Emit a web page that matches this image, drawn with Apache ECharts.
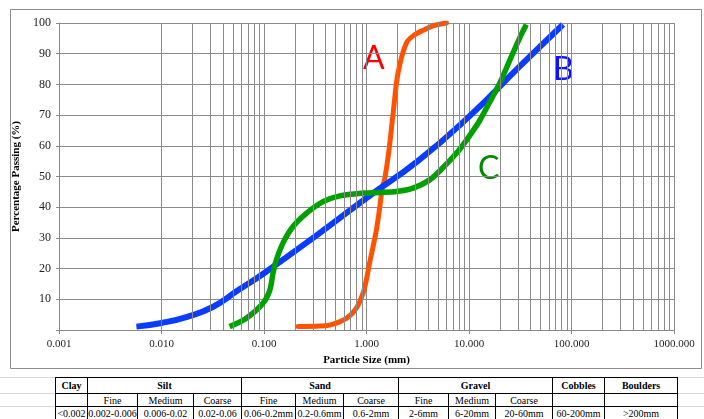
<!DOCTYPE html>
<html>
<head>
<meta charset="utf-8">
<script src="https://cdn.jsdelivr.net/npm/echarts@6/dist/echarts.min.js"></script>
<style>
  html, body { margin: 0; padding: 0; background: #fff; }
  #wrap { position: relative; width: 704px; height: 419px; overflow: hidden; }
  #chart { position: absolute; left: 0; top: 0; width: 704px; height: 419px; }
  .sheet { position: absolute; left: 0; width: 704px; height: 0; border-top: 1px solid #d8d8d8; }
  table.soil {
    position: absolute; left: 55px; top: 377px;
    border-collapse: collapse; table-layout: fixed;
    font-family: "Liberation Serif", serif; font-size: 10px; color: #000;
    background: #fff;
  }
  table.soil td { border: 1px solid #000; padding: 0; text-align: center; white-space: nowrap; overflow: hidden; line-height: 11px; }
  table.soil tr.head td { font-weight: bold; height: 15px; }
  table.soil tr.sub td { height: 12px; }
  table.soil tr.range td { height: 12px; }
</style>
</head>
<body>
<div id="wrap">
  <div id="chart"></div>
  <div class="sheet" style="top:377px"></div>
  <div class="sheet" style="top:393px"></div>
  <div class="sheet" style="top:406px"></div>
  <table class="soil" id="soil"></table>
</div>
<script>
// grading curves (size in mm, % passing)
var sizeA = [0.215, 0.349, 0.438, 0.637, 0.797, 0.925, 0.997, 1.07, 1.16, 1.25, 1.35, 1.43, 1.50, 1.66, 1.82, 2.03, 2.45, 2.95, 3.56, 4.46, 6.03];
var passA = [1.1, 1.3, 1.6, 3.8, 7.1, 12.0, 16.3, 21.7, 27.2, 32.6, 40.2, 46.7, 48.9, 58.7, 70.7, 83.7, 93.5, 96.2, 97.6, 99.1, 100];

var sizeB = [0.00569, 0.01, 0.0178, 0.0316, 0.0562, 0.1, 0.316, 1, 3.16, 10, 31.6, 82.6];
var passB = [1.1, 2.3, 4.3, 7.5, 13.0, 18.5, 30.5, 43.0, 55.0, 69.5, 86.0, 99.5];

var sizeC = [0.0462, 0.0673, 0.0977, 0.114, 0.1225, 0.132, 0.153, 0.192, 0.259, 0.377, 0.548, 0.925, 1.35, 1.96, 2.85, 4.14, 5.62, 7.94, 10, 12.6, 15.8, 20, 25.1, 31.6, 36.3];
var passC = [1.1, 3.8, 8.7, 13.0, 18.5, 22.8, 28.3, 33.7, 38.0, 41.8, 43.7, 44.6, 44.8, 45.1, 46.2, 48.9, 53.0, 58.5, 63.0, 68.0, 74.0, 80.5, 88.0, 95.5, 99.5];

var decades = [0.001, 0.01, 0.1, 1, 10, 100];
var multiples = [2, 3, 4, 5, 6, 7, 8, 9];

// soil classification table
var mainClasses = [['Clay', 1], ['Silt', 3], ['Sand', 3], ['Gravel', 3], ['Cobbles', 1], ['Boulders', 1]];
var subClasses = ['', 'Fine', 'Medium', 'Coarse', 'Fine', 'Medium', 'Coarse', 'Fine', 'Medium', 'Coarse', '', ''];
var sizeRanges = ['<0.002', '0.002-0.006', '0.006-0.02', '0.02-0.06', '0.06-0.2mm', '0.2-0.6mm', '0.6-2mm', '2-6mm', '6-20mm', '20-60mm', '60-200mm', '>200mm'];
var colWidths = [32, 50, 56, 48, 54, 48, 55, 50, 47, 57, 52, 73];

function zip(xs, ys) {
  return xs.map(function (x, i) { return [x, ys[i]]; });
}

var minorLines = [];
decades.forEach(function (d) {
  multiples.forEach(function (m) { minorLines.push({ xAxis: +(d * m).toPrecision(3) }); });
});

var chart = echarts.init(document.getElementById('chart'));
var serif = '"Liberation Serif", "Times New Roman", serif';

var option = {
  animation: false,
  grid: { left: 59, right: 30, top: 23, bottom: 89 },
  xAxis: {
    type: 'log',
    logBase: 10,
    min: 0.001,
    max: 1000,
    name: 'Particle Size (mm)',
    nameLocation: 'middle',
    nameGap: 23,
    nameTextStyle: { fontFamily: serif, fontWeight: 'bold', fontSize: 11, color: '#000' },
    axisLine: { lineStyle: { color: '#888', width: 1 } },
    axisTick: { show: true, length: 4, lineStyle: { color: '#888' } },
    axisLabel: {
      fontFamily: serif, fontSize: 11, color: '#222', margin: 9,
      formatter: function (v) { return Number(v).toFixed(3); }
    },
    splitLine: { show: true, lineStyle: { color: '#8a8a8a', width: 1 } }
  },
  yAxis: {
    type: 'value',
    min: 0,
    max: 100,
    interval: 10,
    name: 'Percentage Passing (%)',
    nameLocation: 'middle',
    nameGap: 36,
    nameRotate: 90,
    nameTextStyle: { fontFamily: serif, fontWeight: 'bold', fontSize: 11, color: '#000' },
    axisLine: { show: true, lineStyle: { color: '#888', width: 1 } },
    axisTick: { show: true, length: 3, lineStyle: { color: '#888' } },
    axisLabel: {
      fontFamily: serif, fontSize: 12, color: '#222', margin: 8,
      formatter: function (v) { return v === 0 ? '' : v; }
    },
    splitLine: { show: true, lineStyle: { color: '#8a8a8a', width: 1 } }
  },
  graphic: [
    { type: 'rect', shape: { x: 10.5, y: 9.5, width: 691, height: 359 }, style: { fill: 'none', stroke: '#8c8c8c', lineWidth: 1 }, z: -1 },
    { type: 'text', left: 363, top: 43, style: { text: 'A', fill: '#ff0000', font: '32px Lato, "Open Sans", sans-serif' } },
    { type: 'text', left: 553, top: 54, style: { text: 'B', fill: '#1010ff', font: '32px Lato, "Open Sans", sans-serif' } },
    { type: 'text', left: 478, top: 153, style: { text: 'C', fill: '#008a00', font: '32px Lato, "Open Sans", sans-serif' } }
  ],
  series: [
    {
      name: 'minor',
      type: 'line',
      data: [[0.001, 0]],
      symbol: 'none',
      lineStyle: { width: 0 },
      silent: true,
      z: 1,
      markLine: {
        silent: true,
        symbol: 'none',
        label: { show: false },
        lineStyle: { color: '#8a8a8a', width: 1, type: 'solid' },
        emphasis: { disabled: true },
        data: minorLines
      }
    },
    {
      name: 'A', type: 'line', data: zip(sizeA, passA), smooth: 0.3, showSymbol: false, z: 3,
      lineStyle: { color: '#ff5200', width: 5, cap: 'round' }
    },
    {
      name: 'B', type: 'line', data: zip(sizeB, passB), smooth: 0.5, showSymbol: false, z: 3,
      lineStyle: { color: '#0a3cff', width: 6, cap: 'butt' }
    },
    {
      name: 'C', type: 'line', data: zip(sizeC, passC), smooth: 0.3, showSymbol: false, z: 4,
      lineStyle: { color: '#00a000', width: 5.5, cap: 'butt' }
    }
  ]
};
chart.setOption(option);

// build the classification table
var tbl = document.getElementById('soil');
var cg = '<colgroup>' + colWidths.map(function (w) { return '<col style="width:' + w + 'px">'; }).join('') + '</colgroup>';
var head = '<tr class="head">' + mainClasses.map(function (c) {
  return '<td colspan="' + c[1] + '">' + c[0] + '</td>';
}).join('') + '</tr>';
var sub = '<tr class="sub">' + subClasses.map(function (s) { return '<td>' + s + '</td>'; }).join('') + '</tr>';
var rng = '<tr class="range">' + sizeRanges.map(function (s) {
  return '<td>' + s.replace('<', '&lt;').replace('>', '&gt;') + '</td>';
}).join('') + '</tr>';
tbl.style.width = colWidths.reduce(function (a, b) { return a + b; }, 0) + 'px';
tbl.innerHTML = cg + head + sub + rng;
</script>
</body>
</html>
